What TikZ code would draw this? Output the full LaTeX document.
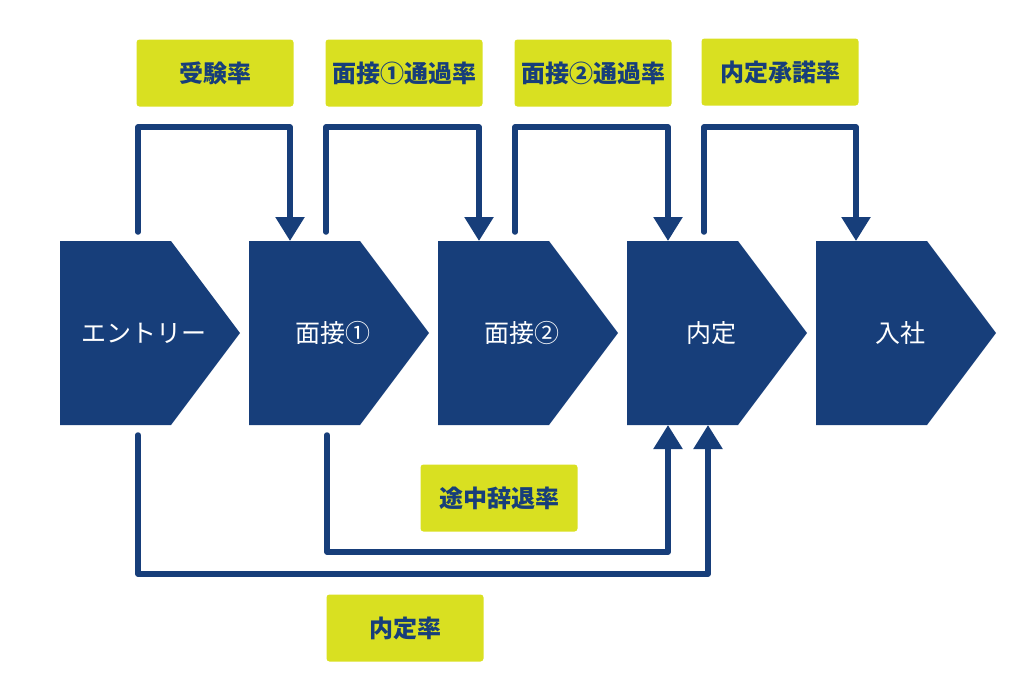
\documentclass[tikz,border=0pt]{standalone}
\usepackage{fontspec}
\usepackage{xcolor}
\usepackage{tikz}
\usetikzlibrary{arrows.meta, calc, backgrounds}
\newfontfamily\jpfont{Noto Sans CJK JP}
\definecolor{navy}{HTML}{173E7A}
\definecolor{lime}{HTML}{D9E021}

\begin{document}
\begin{tikzpicture}[x=1pt, y=-1pt,
        stage/.style={rectangle, text=white, minimum width=168pt, minimum height=184pt,
            inner sep=0pt, outer sep=0pt, font=\jpfont\fontsize{25}{30}\selectfont},
        rate/.style={rectangle, rounded corners=3pt, fill=lime, text=navy,
            minimum width=157pt, minimum height=67pt,
            font=\jpfont\bfseries\fontsize{24}{28}\selectfont},
        flow/.style={draw=navy, line width=5.5pt, line cap=round, line join=round,
            -{Triangle[width=28pt,length=24pt]}}]
        \useasboundingbox (0,0) rectangle (1024,683);

        % stages
        \node (entry) at (144,333) [stage] {エントリー};
        \node (iv1) at (333,333) [stage] {面接①};
        \node (iv2) at (522,333) [stage] {面接②};
        \node (offer) at (711,333) [stage] {内定};
        \node (join) at (900,333) [stage] {入社};

        \begin{scope}[on background layer]
            \foreach \s in {entry,iv1,iv2,offer,join}
                \fill[navy] (\s.north west) -- ([xshift=111pt]\s.north west) -- ([xshift=180pt]\s.west)
                    -- ([xshift=111pt]\s.south west) -- (\s.south west) -- cycle;
        \end{scope}

        % rates
        \node (rExam) at (215,73) [rate] {受験率};
        \node (rIv1) at (404,73) [rate] {面接①通過率};
        \node (rIv2) at (593,73) [rate] {面接②通過率};
        \node (rAccept) at (780,72) [rate] {内定承諾率};
        \node (rDrop) at (499,498) [rate] {途中辞退率};
        \node (rOffer) at (405,628) [rate] {内定率};

        \draw[flow] ([xshift=78pt,yshift=9pt]entry.north west) -- ++(0,-105) -| ([xshift=41pt]iv1.north west);
        \draw[flow] ([xshift=77pt,yshift=9pt]iv1.north west) -- ++(0,-105) -| ([xshift=41pt]iv2.north west);
        \draw[flow] ([xshift=77pt,yshift=9pt]iv2.north west) -- ++(0,-105) -| ([xshift=41pt]offer.north west);
        \draw[flow] ([xshift=77pt,yshift=9pt]offer.north west) -- ++(0,-105) -| ([xshift=40pt]join.north west);

        \draw[flow] ([xshift=78pt,yshift=-10pt]iv1.south west) -- ++(0,117) -| ([xshift=41pt]offer.south west);
        \draw[flow] ([xshift=78pt,yshift=-10pt]entry.south west) -- ++(0,139) -| ([xshift=81pt]offer.south west);
\end{tikzpicture}
\end{document}
